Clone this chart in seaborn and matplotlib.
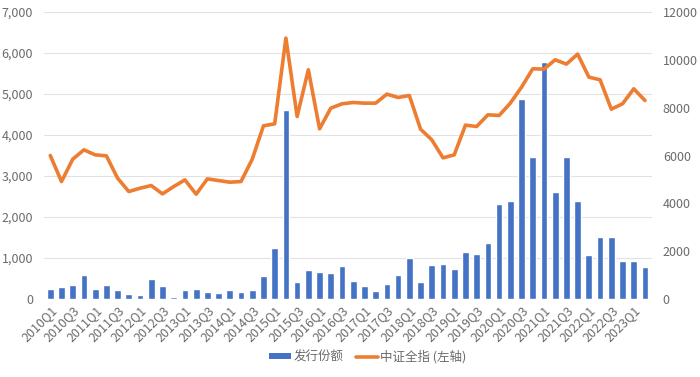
import matplotlib
matplotlib.use("Agg")
import matplotlib.pyplot as plt
from matplotlib.patches import Patch
from matplotlib.lines import Line2D
from matplotlib.ticker import FuncFormatter, MultipleLocator
import seaborn as sns
import pandas as pd
import numpy as np

# Quarters 2010Q1 - 2023Q2
quarters = [f"{y}Q{q}" for y in range(2010, 2024) for q in range(1, 5)][:54]

# 发行份额 (left axis)
issuance = [238, 295, 344, 590, 254, 336, 230, 131, 98, 484,
            320, 57, 213, 238, 180, 148, 221, 180, 221, 549,
            1246, 4620, 418, 713, 656, 631, 811, 440, 325, 203,
            358, 586, 993, 423, 838, 854, 724, 1147, 1098, 1359,
            2311, 2384, 4882, 3466, 5777, 2604, 3466, 2384, 1074, 1513,
            1505, 936, 919, 789]

# 中证全指 (right axis)
index_level = [6000, 4911, 5846, 6237, 6028, 5986, 5051, 4493, 4632, 4744,
               4395, 4702, 4981, 4381, 5023, 4953, 4884, 4911, 5846, 7242,
               7325, 10911, 7632, 9586, 7116, 7981, 8163, 8218, 8190, 8190,
               8567, 8427, 8511, 7102, 6656, 5902, 6028, 7270, 7214, 7702,
               7674, 8190, 8860, 9628, 9614, 10004, 9823, 10242, 9279, 9167,
               7939, 8163, 8790, 8302]

BAR_COLOR = "#4472C4"
LINE_COLOR = "#ED7D31"
TEXT_COLOR = "#6B6B6B"
GRID_COLOR = "#E2E2E2"

df = pd.DataFrame({"quarter": quarters, "issuance": issuance,
                   "index": index_level, "pos": np.arange(len(quarters))})

sns.set_theme(style="white")
plt.rcParams["font.family"] = ["Noto Sans CJK SC", "DejaVu Sans"]

fig = plt.figure(figsize=(7, 3.77), dpi=100)
ax = fig.add_axes([0.063, 0.207, 0.868, 0.761])

sns.barplot(data=df, x="quarter", y="issuance", color=BAR_COLOR,
            width=0.6, saturation=1, ax=ax)
ax.set_ylim(0, 7000)
ax.yaxis.set_major_locator(MultipleLocator(1000))
ax.yaxis.set_major_formatter(FuncFormatter(lambda v, p: f"{int(v):,}"))
ax.grid(axis="y", color=GRID_COLOR, linewidth=0.8)
ax.set_axisbelow(True)

ax2 = ax.twinx()
sns.lineplot(data=df, x="pos", y="index", color=LINE_COLOR, linewidth=2.6, ax=ax2)
ax2.set_ylim(0, 12000)
ax2.yaxis.set_major_locator(MultipleLocator(2000))
ax2.grid(False)

ax.set_xlim(-0.55, 53.6)
ax.set_xticks(range(0, 54, 2))
ax.set_xticklabels(quarters[::2], rotation=45, ha="right", rotation_mode="anchor")

for a in (ax, ax2):
    a.set_xlabel("")
    a.set_ylabel("")
    for s in a.spines.values():
        s.set_visible(False)
    a.tick_params(colors=TEXT_COLOR, labelsize=9, length=0)
ax.tick_params(axis="y", pad=8)
ax2.tick_params(axis="y", pad=8)
ax.tick_params(axis="x", pad=3)

handles = [Patch(facecolor=BAR_COLOR, edgecolor="none"),
           Line2D([0], [0], color=LINE_COLOR, linewidth=2.6)]
fig.legend(handles, ["发行份额", "中证全指 (左轴)"], loc="center",
           bbox_to_anchor=(0.525, 0.053), ncol=2, frameon=False,
           fontsize=9, labelcolor=TEXT_COLOR, handlelength=1.8,
           handleheight=0.35, handletextpad=0.15, columnspacing=1.0)

fig.savefig("out.png", dpi=100)
